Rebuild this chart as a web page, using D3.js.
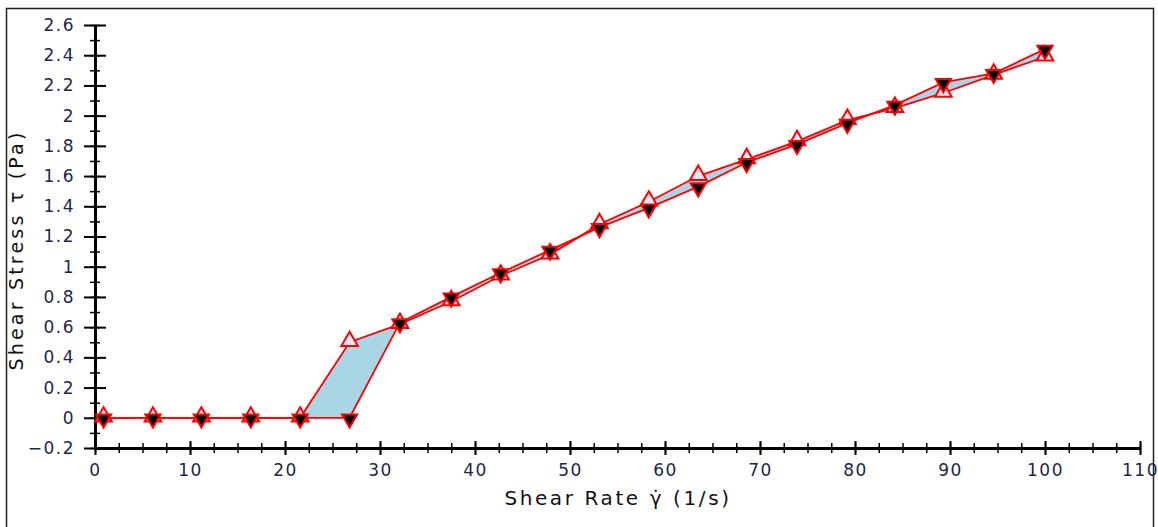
<!DOCTYPE html>
<html>
<head>
<meta charset="utf-8">
<script src="https://cdn.jsdelivr.net/npm/d3@7"></script>
<style>
html,body{margin:0;padding:0;background:#fff;}
svg{display:block;}
</style>
</head>
<body>
<svg id="chart" width="1158" height="527"></svg>
<script>
const shearRate = [0.9, 6.1, 11.2, 16.4, 21.6, 26.8, 32.1, 37.5, 42.7, 47.9, 53.1, 58.3, 63.5, 68.6, 73.9, 79.2, 84.2, 89.3, 94.6, 100];
const stressUp = [0, 0, 0, 0, 0, 0.50, 0.62, 0.77, 0.94, 1.08, 1.28, 1.43, 1.60, 1.71, 1.83, 1.97, 2.05, 2.15, 2.27, 2.39];
const stressDown = [0, 0, 0, 0, 0, 0, 0.63, 0.80, 0.96, 1.11, 1.26, 1.39, 1.53, 1.69, 1.81, 1.95, 2.07, 2.22, 2.28, 2.44];
const xTicks = [0, 10, 20, 30, 40, 50, 60, 70, 80, 90, 100, 110];
const yTicks = [-0.2, 0, 0.2, 0.4, 0.6, 0.8, 1, 1.2, 1.4, 1.6, 1.8, 2, 2.2, 2.4, 2.6];
const xTitle = "Shear Rate \u03B3\u0307 (1/s)";
const yTitle = "Shear Stress \u03C4 (Pa)";

(function () {
const svg = d3.select("#chart");
const pLeft = 95, pRight = 1140, pTop = 25, pBottom = 448;

// frame
svg.append("rect").attr("x", 6.5).attr("y", 8.5).attr("width", 1147).attr("height", 530)
  .attr("fill", "none").attr("stroke", "#222").attr("stroke-width", 1.5);

const x = d3.scaleLinear().domain([0, 110]).range([pLeft, pRight]);
const y = d3.scaleLinear().domain([-0.2, 2.6]).range([pBottom, pTop]);

const font = "'DejaVu Sans', Verdana, sans-serif";
const data = shearRate.map((d, i) => ({x: d, up: stressUp[i], down: stressDown[i]}));

// fill between
svg.append("path").datum(data)
  .attr("fill", "#a9d6e5")
  .attr("d", d3.area().x(d => x(d.x)).y0(d => y(d.down)).y1(d => y(d.up)));

// x axis minor ticks
const xMinor = d3.range(0, 110.01, 2.5);
const gxm = svg.append("g").attr("transform", `translate(0,${pBottom})`)
  .call(d3.axisBottom(x).tickValues(xMinor).tickSize(5).tickFormat(""));
gxm.select(".domain").remove();
gxm.selectAll(".tick line").attr("y1", -5).attr("stroke", "#000").attr("stroke-width", 1.5);

const gx = svg.append("g").attr("transform", `translate(0,${pBottom})`)
  .call(d3.axisBottom(x).tickValues(xTicks).tickSize(7).tickSizeOuter(0).tickPadding(9));
gx.select(".domain").attr("stroke", "#000").attr("stroke-width", 3);
gx.selectAll(".tick line").attr("y1", -7).attr("stroke", "#000").attr("stroke-width", 2);
gx.selectAll(".tick text").attr("font-family", font).attr("font-size", 17).attr("letter-spacing", 1.5).attr("fill", "#1c2748");

// y axis minor ticks
const yMinor = d3.range(-0.2, 2.61, 0.1);
const gym = svg.append("g").attr("transform", `translate(${pLeft},0)`)
  .call(d3.axisLeft(y).tickValues(yMinor).tickSize(5).tickFormat(""));
gym.select(".domain").remove();
gym.selectAll(".tick line").attr("x1", 5).attr("stroke", "#000").attr("stroke-width", 1.5);

const gy = svg.append("g").attr("transform", `translate(${pLeft},0)`)
  .call(d3.axisLeft(y).tickValues(yTicks).tickSize(11).tickSizeOuter(0).tickPadding(9)
    .tickFormat(d => d3.format("~g")(+d.toFixed(1))));
gy.select(".domain").attr("stroke", "#000").attr("stroke-width", 3);
gy.selectAll(".tick line").attr("x1", 11).attr("stroke", "#000").attr("stroke-width", 2);
gy.selectAll(".tick text").attr("font-family", font).attr("font-size", 17).attr("letter-spacing", 1.5).attr("fill", "#1c2748");

// lines
const lineUp = d3.line().x(d => x(d.x)).y(d => y(d.up));
const lineDown = d3.line().x(d => x(d.x)).y(d => y(d.down));
svg.append("path").datum(data).attr("fill", "none").attr("stroke", "#f00").attr("stroke-width", 1.8).attr("d", lineUp);
svg.append("path").datum(data).attr("fill", "none").attr("stroke", "#f00").attr("stroke-width", 1.8).attr("d", lineDown);

// markers
const tri = d3.symbol().type(d3.symbolTriangle).size(120);
svg.append("g").selectAll("path").data(data).join("path")
  .attr("d", tri)
  .attr("transform", d => `translate(${x(d.x)},${y(d.up) - 1})`)
  .attr("fill", "#e8e8f8").attr("stroke", "#f00").attr("stroke-width", 2);
const tri2 = d3.symbol().type(d3.symbolTriangle).size(100);
svg.append("g").selectAll("path").data(data).join("path")
  .attr("d", tri2)
  .attr("transform", d => `translate(${x(d.x)},${y(d.down) + 1}) rotate(180)`)
  .attr("fill", "#000").attr("stroke", "#f00").attr("stroke-width", 2);

// titles
svg.append("text").attr("x", 618).attr("y", 505).attr("text-anchor", "middle")
  .attr("font-family", font).attr("font-size", 20).attr("letter-spacing", 2.6).attr("fill", "#111").text(xTitle);
svg.append("text").attr("transform", "translate(23,250) rotate(-90)").attr("text-anchor", "middle")
  .attr("font-family", font).attr("font-size", 19).attr("letter-spacing", 3.2).attr("fill", "#111").text(yTitle);
})();
</script>
</body>
</html>
